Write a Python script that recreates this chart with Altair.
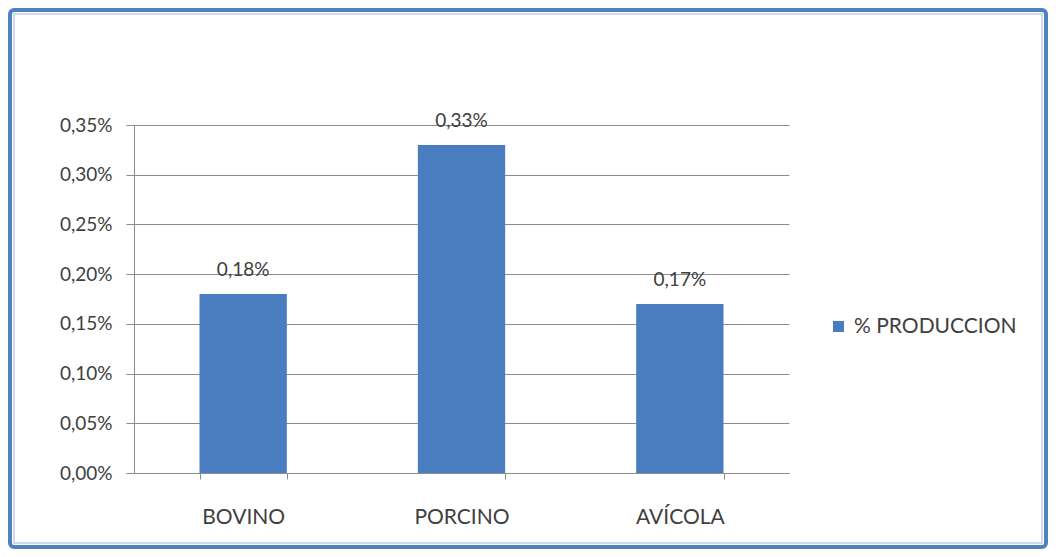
import altair as alt
import pandas as pd

categories = ["BOVINO", "PORCINO", "AVÍCOLA"]
values = [0.0018, 0.0033, 0.0017]
series_name = "% PRODUCCION"

df = pd.DataFrame({"cat": categories, "val": values, "serie": [series_name] * 3})
df["label"] = [f"{v*100:.2f}%".replace(".", ",") for v in values]

FONT = "Lato"
TXT = "#404040"

x = alt.X("cat:N", sort=categories, title=None,
          scale=alt.Scale(paddingInner=0.6, paddingOuter=0.3),
          axis=alt.Axis(labelAngle=0, labelFontSize=21, labelColor=TXT, labelFont=FONT,
                        labelPadding=27, tickBand="extent", tickSize=6, tickColor="#8c8c8c",
                        domainColor="#8c8c8c", grid=False))
y = alt.Y("val:Q", title=None,
          scale=alt.Scale(domain=[0, 0.0035], nice=False),
          axis=alt.Axis(values=[0, 0.0005, 0.001, 0.0015, 0.002, 0.0025, 0.003, 0.0035],
                        labelExpr="replace(format(datum.value, '.2%'), '.', ',')",
                        labelFontSize=19, labelColor=TXT, labelFont=FONT, labelPadding=14,
                        tickSize=8, tickColor="#8c8c8c", domainColor="#8c8c8c",
                        gridColor="#8c8c8c", gridWidth=1))

base = alt.Chart(df)

bars = base.mark_bar(color="#4a7dc0").encode(
    x=x, y=y,
    color=alt.Color("serie:N", scale=alt.Scale(domain=[series_name], range=["#4a7dc0"]),
                    legend=alt.Legend(title=None, orient="none", legendX=694, legendY=191,
                                      symbolType="square", symbolSize=120, symbolStrokeWidth=0,
                                      labelFontSize=21, labelFont=FONT, labelColor=TXT,
                                      labelOffset=5, labelLimit=400,
                                      symbolFillColor="#4a7dc0"))
)

texts = base.mark_text(dy=-18, fontSize=19, font=FONT, color=TXT, baseline="alphabetic").encode(
    x=alt.X("cat:N", sort=categories), y="val:Q", text="label:N"
)

border = alt.Chart(pd.DataFrame({"a": [0]})).mark_rect(
    fill=None, stroke="#4f81bd", strokeWidth=4, cornerRadius=4
).encode(x=alt.value(-124), x2=alt.value(912), y=alt.value(-115), y2=alt.value(422))

inner = alt.Chart(pd.DataFrame({"a": [0]})).mark_rect(
    fill=None, stroke="#b9d0ee", strokeWidth=1.5
).encode(x=alt.value(-120), x2=alt.value(908), y=alt.value(-111), y2=alt.value(418))

chart = alt.layer(bars, texts, border, inner).properties(
    width=655, height=348,
    padding={"left": 126, "top": 117, "right": 259, "bottom": 76},
    autosize=alt.AutoSizeParams(type="none"),
    background="white",
).configure_view(stroke=None).configure_axis(labelFont=FONT)

chart.save("out.html", embed_options={"renderer": "svg", "actions": False})
